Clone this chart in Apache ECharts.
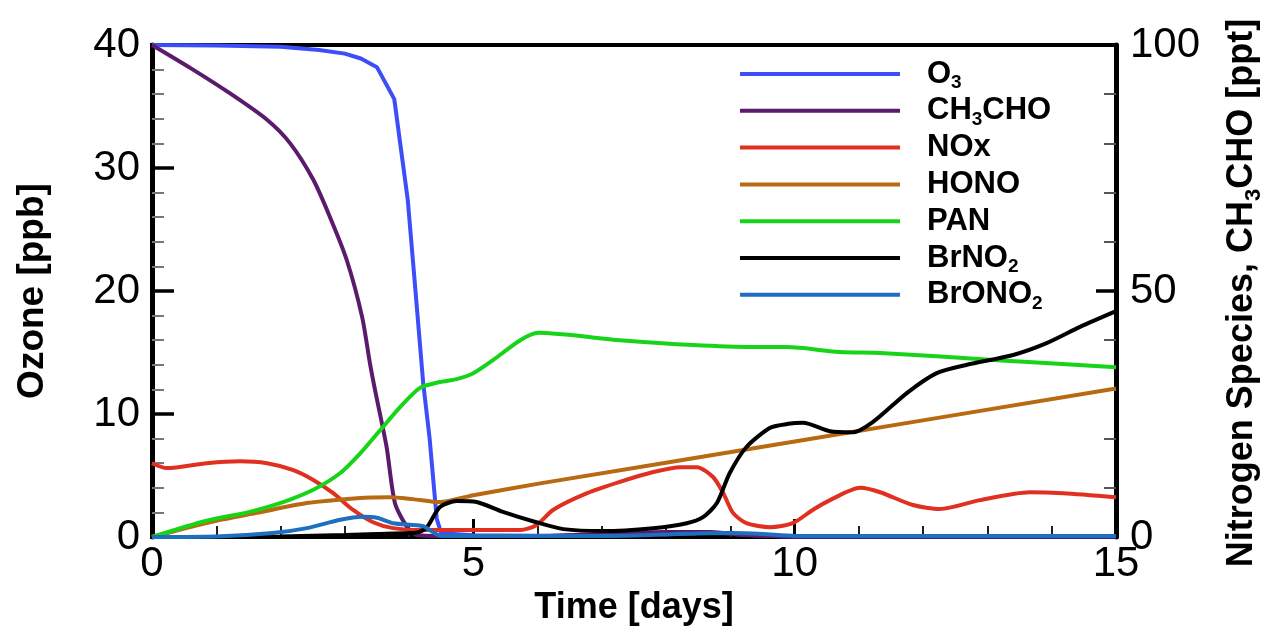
<!DOCTYPE html>
<html>
<head>
<meta charset="utf-8">
<title>Ozone and nitrogen species</title>
<script src="https://cdn.jsdelivr.net/npm/echarts@6/dist/echarts.min.js"></script>
<style>
  html, body { margin: 0; padding: 0; background: #fff; }
  #chart { width: 1278px; height: 633px; }
</style>
</head>
<body>
<div id="chart"></div>
<script>
// [time in days, value] -- O3 in ppb (left axis), everything else in ppt (right axis)
const o3 = [[0, 40], [1, 39.95], [2, 39.85], [2.6, 39.6], [3, 39.3], [3.25, 38.9], [3.5, 38.2],
  [3.77, 35.6], [3.98, 27.4], [4.1, 20], [4.22, 12.5], [4.32, 8], [4.43, 1.5], [4.5, 0.3],
  [5, 0.15], [6, 0.1], [7, 0.15], [8, 0.3], [8.5, 0.35], [9, 0.3], [9.5, 0.1], [10, 0.05], [15, 0.05]]
const ch3cho = [[0, 100], [0.6, 95.3], [1.21, 90.2], [1.79, 84.8], [2.15, 80], [2.51, 72.6], [2.77, 65],
  [3.03, 56.3], [3.27, 44.7], [3.39, 35.4], [3.47, 29.9], [3.65, 18.3], [3.78, 6.9], [3.97, 2],
  [4.12, 0.4], [4.5, 0.2], [6, 0.2], [7, 0.6], [8, 1], [8.7, 1], [9.2, 0.4], [10, 0.1], [15, 0.1]]
const nox = [[0, 15], [0.23, 14], [0.85, 15], [1.37, 15.4], [1.79, 15], [2.2, 13.6], [2.51, 11.6],
  [2.82, 8.9], [3.13, 5.5], [3.44, 3], [3.75, 1.8], [4.2, 1.4], [5.73, 1.4], [5.98, 2.4], [6.24, 5.5],
  [6.77, 8.9], [7.28, 11.2], [7.8, 13.2], [8.22, 14.2], [8.48, 14.2], [8.73, 12.2], [8.89, 8.9],
  [9.04, 4.9], [9.25, 2.8], [9.62, 2], [9.97, 2.8], [10.28, 5.5], [10.55, 7.5], [11.02, 10],
  [11.33, 9.1], [11.84, 6.5], [12.26, 5.7], [12.88, 7.5], [13.66, 9.1], [14.18, 8.9], [15, 8.1]]
const hono = [[0, 0], [0.5, 1.7], [1, 3.3], [1.63, 4.9], [2.41, 6.9], [3.19, 7.9], [3.7, 8.1],
  [4.06, 7.7], [4.48, 7.1], [5, 8.5], [6.04, 10.9], [10, 19.4], [15, 30.2]]
const pan = [[0, 0], [0.85, 3.3], [1.52, 5.1], [2.04, 7.1], [2.51, 9.6], [2.93, 13], [3.24, 17],
  [3.55, 21.7], [3.86, 26.4], [4.17, 30.3], [4.48, 31.5], [4.74, 32.1], [5, 33.3], [5.31, 36],
  [5.73, 40], [6.01, 41.5], [7.28, 40], [8.42, 39], [9.35, 38.6], [9.88, 38.6], [10.7, 37.6],
  [11.33, 37.4], [13.09, 36], [15, 34.5]]
const brno2 = [[0, 0], [1, 0], [2, 0.1], [3, 0.4], [3.5, 0.6], [4, 0.8], [4.15, 1], [4.28, 2],
  [4.48, 6.1], [4.74, 7.3], [5.05, 7.1], [5.46, 5.1], [5.98, 3], [6.4, 1.6], [7.02, 1.2], [7.8, 1.8],
  [8.32, 2.8], [8.58, 4.1], [8.79, 6.9], [8.99, 13], [9.25, 18.3], [9.62, 22.2], [9.9, 23],
  [10.13, 23.2], [10.55, 21.5], [10.91, 21.3], [11.22, 23.4], [11.75, 29.3], [12.21, 33.3],
  [12.68, 35], [13.4, 37], [13.92, 39.4], [14.44, 42.7], [15, 45.9]]
const brono2 = [[0, 0], [1, 0.1], [1.88, 0.8], [2.41, 1.8], [2.93, 3.5], [3.28, 4.1], [3.5, 3.9],
  [3.75, 2.8], [4.22, 2.2], [4.37, 1], [4.5, 0.2], [7, 0.2], [8.5, 0.7], [9, 0.8], [9.5, 0.6],
  [10, 0.2], [15, 0.2]]

const seriesNames = ['O3', 'CH3CHO', 'NOx', 'HONO', 'PAN', 'BrNO2', 'BrONO2']
const seriesColors = ['#3d4ef8', '#5b1b6b', '#e0301f', '#b86a12', '#18d418', '#000000', '#1e6fc0']
const seriesData = [o3, ch3cho, nox, hono, pan, brno2, brono2]
// legend / axis title with subscripts
const richNames = {
  O3: '{b|O}{s|3}',
  CH3CHO: '{b|CH}{s|3}{b|CHO}',
  NOx: '{b|NOx}',
  HONO: '{b|HONO}',
  PAN: '{b|PAN}',
  BrNO2: '{b|BrNO}{s|2}',
  BrONO2: '{b|BrONO}{s|2}'
}

const font = 'Liberation Sans, Arial, Helvetica, sans-serif'
const chart = echarts.init(document.getElementById('chart'))

const option = {
  animation: false,
  backgroundColor: '#fff',
  textStyle: { fontFamily: font },
  grid: {
    left: 152,
    right: 162,
    top: 45,
    bottom: 96,
    show: true,
    borderColor: '#000',
    borderWidth: 4
  },
  legend: {
    orient: 'vertical',
    left: 735,
    top: 49,
    icon: 'rect',
    itemWidth: 160,
    itemHeight: 4,
    itemGap: -3.2,
    data: seriesNames,
    formatter: name => richNames[name],
    textStyle: {
      padding: [0, 0, 0, 22],
      lineHeight: 40,
      rich: {
        b: { fontSize: 31, fontWeight: 'bold', color: '#000', fontFamily: font, lineHeight: 40 },
        // top padding drops the digit below the baseline, total height stays inside the row
        s: { fontSize: 19, fontWeight: 'bold', color: '#000', fontFamily: font, lineHeight: 40, padding: [17, 0, 0, 0] }
      }
    }
  },
  xAxis: {
    type: 'value',
    min: 0,
    max: 15,
    interval: 5,
    name: 'Time [days]',
    nameLocation: 'middle',
    nameGap: 50,
    nameTextStyle: { fontSize: 36, fontWeight: 'bold', color: '#000', fontFamily: font },
    axisLine: { lineStyle: { color: '#000', width: 4 } },
    axisTick: { inside: true, length: 18, lineStyle: { color: '#000', width: 3 } },
    minorTick: { show: true, splitNumber: 5, length: 11, lineStyle: { color: '#222', width: 2 } },
    axisLabel: { fontSize: 42, color: '#000', margin: 6 },
    splitLine: { show: false }
  },
  yAxis: [
    {
      type: 'value',
      min: 0,
      max: 40,
      interval: 10,
      axisLine: { show: true, lineStyle: { color: '#000', width: 5 } },
      axisTick: { inside: true, length: 22, lineStyle: { color: '#000', width: 3.5 } },
      minorTick: { show: true, splitNumber: 5, length: 12, lineStyle: { color: '#777', width: 2 } },
      axisLabel: { fontSize: 42, color: '#000', margin: 12 },
      splitLine: { show: false }
    },
    {
      type: 'value',
      position: 'right',
      min: 0,
      max: 100,
      interval: 50,
      axisLine: { show: true, lineStyle: { color: '#000', width: 5 } },
      axisTick: { inside: true, length: 20, lineStyle: { color: '#000', width: 3.5 } },
      minorTick: { show: true, splitNumber: 5, length: 12, lineStyle: { color: '#555', width: 2 } },
      axisLabel: { fontSize: 42, color: '#000', margin: 14 },
      splitLine: { show: false }
    }
  ],
  graphic: [
    {
      type: 'text',
      x: 33,
      y: 291,
      rotation: Math.PI / 2,
      style: {
        text: 'Ozone [ppb]',
        font: 'bold 37px ' + font,
        fill: '#000',
        align: 'center',
        verticalAlign: 'middle'
      }
    },
    {
      type: 'text',
      x: 1242,
      y: 293,
      rotation: Math.PI / 2,
      style: {
        text: '{b|Nitrogen Species, CH}{s|3}{b|CHO [ppt]}',
        align: 'center',
        verticalAlign: 'middle',
        rich: {
          b: { fontSize: 36, fontWeight: 'bold', fontFamily: font, fill: '#000', lineHeight: 38 },
          s: { fontSize: 22, fontWeight: 'bold', fontFamily: font, fill: '#000', lineHeight: 14, padding: [24, 0, 0, 0] }
        }
      }
    }
  ],
  series: seriesNames.map((name, i) => ({
    name: name,
    type: 'line',
    yAxisIndex: i === 0 ? 0 : 1,
    data: seriesData[i],
    showSymbol: false,
    symbol: 'none',
    smooth: i === 0 ? false : 0.25,
    clip: true,
    itemStyle: { color: seriesColors[i] },
    lineStyle: { color: seriesColors[i], width: 4 }
  }))
}

chart.setOption(option)
</script>
</body>
</html>
